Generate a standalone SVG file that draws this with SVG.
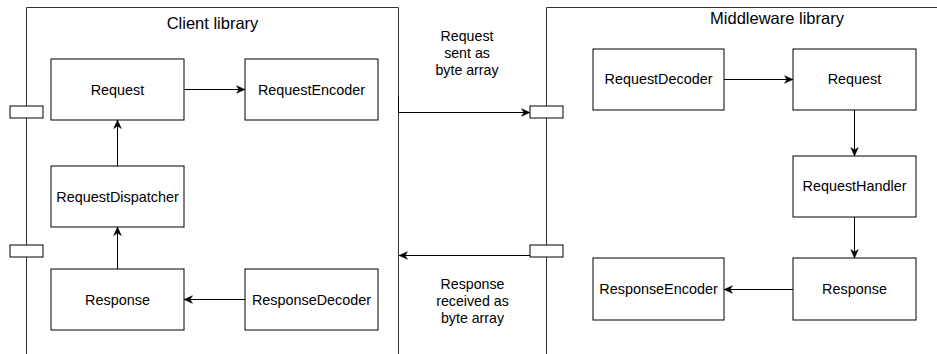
<svg xmlns="http://www.w3.org/2000/svg" width="937" height="354" viewBox="0 0 937 354">
  <style>
    .node rect { fill: #ffffff; stroke: #000000; stroke-width: 1; }
    .node text { font-family: "Liberation Sans", Arial, sans-serif; font-size: 14.4px; fill: #000000; text-anchor: middle; }
    .container { fill: none; stroke: #333333; stroke-width: 1; }
    .title { font-family: "Liberation Sans", Arial, sans-serif; font-size: 16.5px; fill: #000000; text-anchor: middle; }
    .label { font-family: "Liberation Sans", Arial, sans-serif; font-size: 14.2px; fill: #000000; text-anchor: middle; }
    .port { fill: #ffffff; stroke: #000000; stroke-width: 1; }
    .edge { fill: none; stroke: #000000; stroke-width: 1; marker-end: url(#arrow); }
  </style>
  <defs>
    <marker id="arrow" markerUnits="userSpaceOnUse" viewBox="-9 -4.5 9.5 9" refX="0" refY="0" markerWidth="9.5" markerHeight="9" orient="auto">
      <path d="M0,0 L-8.5,-3.8 L-6,0 L-8.5,3.8 Z" fill="#000000" stroke="#000000" stroke-width="0.5"/>
    </marker>
  </defs>
  <rect width="937" height="354" fill="#ffffff"/>

  <g id="client-library">
    <path class="container" d="M26.5,360 V7.5 H398.5 V360"/>
    <text class="title" x="212.5" y="29">Client library</text>
  </g>
  <g id="middleware-library">
    <path class="container" d="M546.5,360 V7.5 H945"/>
    <text class="title" x="777" y="24">Middleware library</text>
  </g>

  <g id="client-port-top"><rect class="port" x="10" y="106" width="33" height="12"/></g>
  <g id="client-port-bottom"><rect class="port" x="10" y="245" width="33" height="12"/></g>

  <g id="connectors">
    <path class="edge" d="M184,89.5 H245"/>
    <path class="edge" d="M117.5,166 V120"/>
    <path class="edge" d="M117.5,269 V227"/>
    <path class="edge" d="M245,299.5 H184"/>
    <path class="edge" d="M398.5,96 V112.5 H530"/>
    <path class="edge" d="M530,255.5 H399"/>
    <path class="edge" d="M724,79.5 H793"/>
    <path class="edge" d="M854.5,110 V156"/>
    <path class="edge" d="M854.5,217 V258"/>
    <path class="edge" d="M793,289.5 H724"/>
  </g>

  <g id="mw-port-top"><rect class="port" x="530" y="106" width="33" height="12"/></g>
  <g id="mw-port-bottom"><rect class="port" x="530" y="245" width="33" height="12"/></g>

  <g id="label-request-sent">
    <text class="label" x="467" y="41">Request</text>
    <text class="label" x="467" y="58">sent as</text>
    <text class="label" x="467" y="75">byte array</text>
  </g>
  <g id="label-response-received">
    <text class="label" x="472.5" y="289">Response</text>
    <text class="label" x="472.5" y="306">received as</text>
    <text class="label" x="472.5" y="323">byte array</text>
  </g>

  <g id="client-request" class="node">
    <rect x="51" y="59" width="133" height="61"/>
    <text x="117.5" y="94.5">Request</text>
  </g>
  <g id="client-request-encoder" class="node">
    <rect x="245" y="59" width="133" height="61"/>
    <text x="311.5" y="94.5">RequestEncoder</text>
  </g>
  <g id="client-request-dispatcher" class="node">
    <rect x="51" y="166" width="133" height="61"/>
    <text x="117.5" y="201.5">RequestDispatcher</text>
  </g>
  <g id="client-response" class="node">
    <rect x="51" y="269" width="133" height="61"/>
    <text x="117.5" y="304.5">Response</text>
  </g>
  <g id="client-response-decoder" class="node">
    <rect x="245" y="269" width="133" height="61"/>
    <text x="311.5" y="304.5">ResponseDecoder</text>
  </g>

  <g id="mw-request-decoder" class="node">
    <rect x="593" y="49" width="131" height="61"/>
    <text x="658.5" y="84">RequestDecoder</text>
  </g>
  <g id="mw-request" class="node">
    <rect x="793" y="49" width="123" height="61"/>
    <text x="854.5" y="84">Request</text>
  </g>
  <g id="mw-request-handler" class="node">
    <rect x="793" y="156" width="123" height="61"/>
    <text x="854.5" y="191">RequestHandler</text>
  </g>
  <g id="mw-response" class="node">
    <rect x="793" y="258" width="123" height="62"/>
    <text x="854.5" y="294">Response</text>
  </g>
  <g id="mw-response-encoder" class="node">
    <rect x="593" y="258" width="131" height="62"/>
    <text x="658.5" y="294">ResponseEncoder</text>
  </g>
</svg>
